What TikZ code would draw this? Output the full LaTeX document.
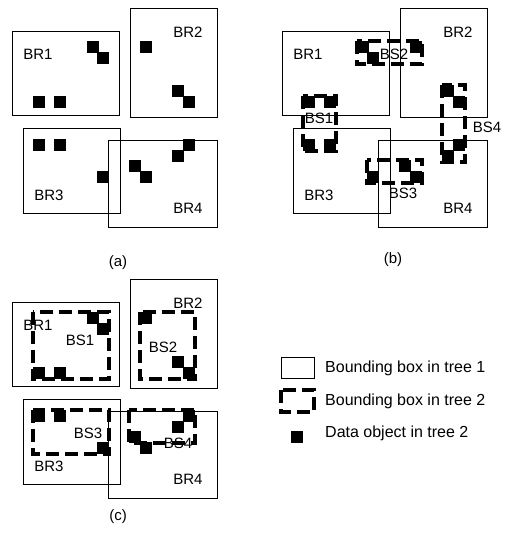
\documentclass[tikz,border=0pt]{standalone}
\usepackage{fontspec}
\setmainfont{Liberation Sans}
\usetikzlibrary{positioning}

% the four regions of tree 1 and the objects of tree 2
\newcommand{\treeone}{%
  \draw[region] (12,31) rectangle (119,115);
  \draw[region] (130,8) rectangle (217,117);
  \draw[region] (23,128) rectangle (120,213);
  \draw[region] (108,140) rectangle (217,227);
  \foreach \px/\py [count=\k] in {93/47,103/58,39/102,60/102,146/47,178/91,189/102,
      39/145,60/145,103/177,189/145,178/156,135/166,146/177}
    \node[datum] (obj\k) at (\px,\py) {};
}
\newcommand{\brlabels}{%
  \node[tag] (BR1) at (38,54) {BR1};
  \node[tag] (BR2) at (188,32) {BR2};
  \node[tag] (BR3) at (49,195) {BR3};
  \node[tag] (BR4) at (188,208) {BR4};
}

\begin{document}
\begin{tikzpicture}[x=1pt,y=-1pt,
    region/.style={draw=black, line width=0.8pt},
    cluster/.style={draw=black, line width=3.4pt, dash pattern=on 13pt off 6pt},
    datum/.style={rectangle, fill=black, minimum size=12pt, inner sep=0pt},
    tag/.style={font=\fontsize{15}{17}\selectfont, inner sep=0pt},
    legtext/.style={tag, anchor=west, font=\fontsize{16}{18}\selectfont}
]
\useasboundingbox (0,0) rectangle (506,539);

% (a)
\begin{scope}[name prefix=a-]
\treeone
\brlabels
\node[tag] (cap) at (118,263) {(a)};
\end{scope}

% (b)
\begin{scope}[shift={(270,0)}, name prefix=b-]
\treeone
\draw[cluster] (33,96) rectangle (66,151);
\draw[cluster] (87,41) rectangle (152,64);
\draw[cluster] (97,160) rectangle (152,183);
\draw[cluster] (172,85) rectangle (195,162);
\brlabels
\node[tag] (BS1) at (49,118) {BS1};
\node[tag] (BS2) at (124,54) {BS2};
\node[tag] (BS3) at (133,193) {BS3};
\node[tag] (BS4) at (217,127) {BS4};
\node[tag] (cap) at (123,260) {(b)};
\end{scope}

% (c)
\begin{scope}[shift={(0,271)}, name prefix=c-]
\treeone
\draw[cluster] (33,41) rectangle (109,108);
\draw[cluster] (140,41) rectangle (195,108);
\draw[cluster] (33,139) rectangle (109,183);
\draw[cluster] (129,139) rectangle (195,172);
\brlabels
\node[tag] (BS1) at (80,69) {BS1};
\node[tag] (BS2) at (163,76) {BS2};
\node[tag] (BS3) at (88,162) {BS3};
\node[tag] (BS4) at (178,172) {BS4};
\node[tag] (cap) at (118,246) {(c)};
\end{scope}

% legend
\draw[region] (281,357) rectangle (314,378);
\node[legtext] (leg1) at (325,368) {Bounding box in tree 1};
\draw[cluster] (281,390) rectangle (314,412);
\node[legtext] (leg2) at (325,401) {Bounding box in tree 2};
\node[datum] (leg3mark) at (297,437) {};
\node[legtext] (leg3) at (325,433) {Data object in tree 2};
\end{tikzpicture}
\end{document}
